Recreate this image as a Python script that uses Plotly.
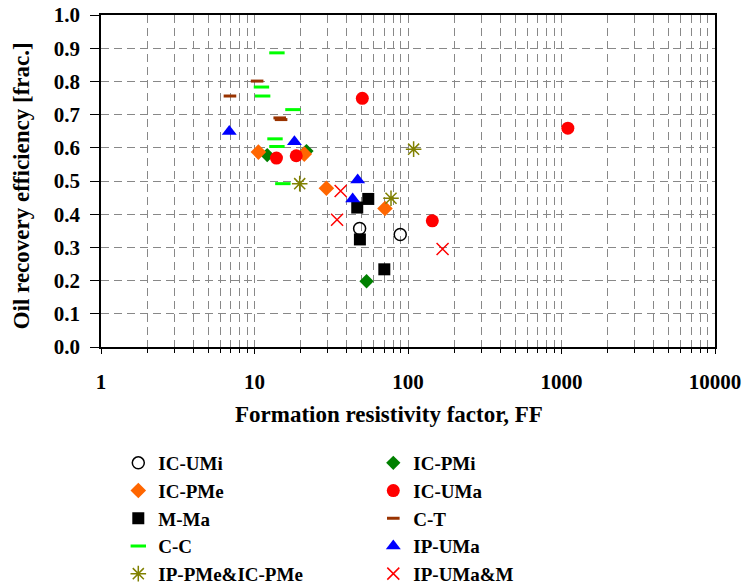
import plotly.graph_objects as go

# ---- data ----
ic_umi_x = [48.4, 89.0]
ic_umi_y = [0.357, 0.339]

ic_pmi_x = [12.1, 21.8, 53.7]
ic_pmi_y = [0.578, 0.590, 0.198]

ic_pme_x = [10.6, 21.1, 29.4, 70.8]
ic_pme_y = [0.587, 0.581, 0.478, 0.417]

ic_uma_x = [13.9, 18.7, 50.4, 144.0, 1100.0]
ic_uma_y = [0.569, 0.576, 0.749, 0.380, 0.659]

m_ma_x = [46.7, 55.1, 48.6, 70.1]
m_ma_y = [0.420, 0.446, 0.324, 0.234]

c_t_x = [10.4, 6.92, 14.6, 14.9]
c_t_y = [0.801, 0.756, 0.690, 0.685]

c_c_x = [14.0, 11.1, 11.3, 17.8, 13.6, 14.0, 15.3]
c_c_y = [0.886, 0.783, 0.756, 0.715, 0.627, 0.604, 0.492]

ip_uma_x = [6.85, 18.2, 47.0, 43.6]
ip_uma_y = [0.649, 0.618, 0.503, 0.446]

ip_pme_x = [19.7, 77.5, 108.8]
ip_pme_y = [0.492, 0.448, 0.596]

ip_umam_x = [36.4, 34.5, 168.0]
ip_umam_y = [0.470, 0.383, 0.295]

x_ticks = [1, 10, 100, 1000, 10000]
y_ticks = [0.0, 0.1, 0.2, 0.3, 0.4, 0.5, 0.6, 0.7, 0.8, 0.9, 1.0]

FONT = "Liberation Serif"

fig = go.Figure()

def add(name, xs, ys, symbol, size, color, line_color=None, line_width=0):
    fig.add_trace(go.Scatter(
        x=xs, y=ys, mode="markers", name=name,
        marker=dict(symbol=symbol, size=size, color=color,
                    line=dict(color=line_color or color, width=line_width)),
    ))

add("IC-UMi", ic_umi_x, ic_umi_y, "circle-open", 12, "black", "black", 1.5)
add("IC-PMi", ic_pmi_x, ic_pmi_y, "diamond", 11, "#008000")
add("IC-PMe", ic_pme_x, ic_pme_y, "diamond", 12, "#ff6600")
add("IC-UMa", ic_uma_x, ic_uma_y, "circle", 13, "#ff0000")
add("M-Ma", m_ma_x, m_ma_y, "square", 12, "black")
add("C-T", c_t_x, c_t_y, "line-ew", 9, "#993300", "#993300", 3)
add("C-C", c_c_x, c_c_y, "line-ew", 11, "#00ff00", "#00ff00", 3)
add("IP-UMa", ip_uma_x, ip_uma_y, "triangle-up", 13, "#0000ff")
add("IP-PMe&IC-PMe", ip_pme_x, ip_pme_y, "asterisk-open", 13, "#808000", "#808000", 1.5)
add("IP-UMa&M", ip_umam_x, ip_umam_y, "x-thin-open", 12, "#ff0000", "#ff0000", 1.5)

minor_vals = [m * 10 ** d for d in range(4) for m in range(2, 10)]

grid_dash = "8px,5px"
grid_col = "#888888"

fig.update_xaxes(
    type="log", range=[0, 4],
    tickvals=x_ticks, ticktext=[str(v) for v in x_ticks],
    tickfont=dict(family=FONT, size=21, color="black", weight="bold"),
    ticks="outside", ticklen=5, tickcolor="black",
    ticklabelstandoff=10, ticklabeloverflow="allow",
    showgrid=True, gridcolor=grid_col, griddash=grid_dash, gridwidth=1,
    minor=dict(tickvals=minor_vals, showgrid=True, gridcolor=grid_col,
               griddash=grid_dash, gridwidth=1, ticks="outside", ticklen=4,
               tickcolor="black"),
    showline=True, linecolor="black", linewidth=2, mirror=True,
    zeroline=False,
)
fig.update_yaxes(
    range=[0, 1], tickvals=y_ticks, ticktext=[f"{v:.1f}" for v in y_ticks],
    tickfont=dict(family=FONT, size=21, color="black", weight="bold"),
    ticks="outside", ticklen=9, tickcolor="black",
    ticklabelstandoff=6, ticklabeloverflow="allow",
    showgrid=True, gridcolor=grid_col, griddash=grid_dash, gridwidth=1,
    showline=True, linecolor="black", linewidth=1.5, mirror=True,
    zeroline=False,
)

fig.add_annotation(
    text="Formation resistivity factor, FF", xref="paper", yref="paper",
    x=(389 - 100.7) / 614, y=(347 - 414) / 332, xanchor="center", yanchor="middle",
    showarrow=False, font=dict(family=FONT, size=23, color="black", weight="bold"),
)
fig.add_annotation(
    text="Oil recovery efficiency [frac.]", xref="paper", yref="paper",
    x=(21 - 100.7) / 614, y=(347 - 186) / 332, xanchor="center", yanchor="middle",
    textangle=-90, showarrow=False,
    font=dict(family=FONT, size=23, color="black", weight="bold"),
)

fig.update_layout(
    width=747, height=586,
    margin=dict(l=100.7, r=32.3, t=15, b=239, autoexpand=False),
    paper_bgcolor="white", plot_bgcolor="white",
    font=dict(family=FONT, color="black"),
    showlegend=True,
    legend=dict(
        orientation="h", x=(118 - 100.7) / 614, y=(347 - 444) / 332,
        xanchor="left", yanchor="top",
        entrywidth=210, entrywidthmode="pixels",
        font=dict(family=FONT, size=19, color="black", weight="bold"),
        bgcolor="rgba(0,0,0,0)", itemsizing="trace",
    ),
)

# remove the default page margin so the figure fills the window exactly
fig.write_html("out.html", config={"displayModeBar": False},
               post_script="document.body.style.margin='0px';")
